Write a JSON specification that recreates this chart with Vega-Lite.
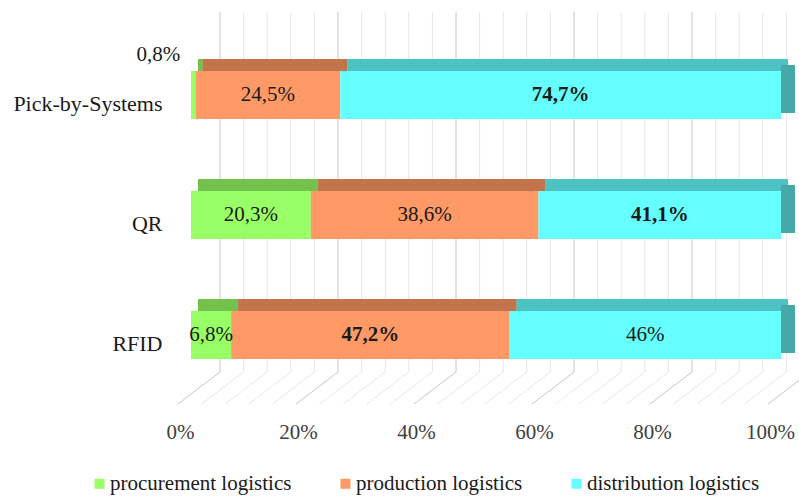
{
  "$schema": "https://vega.github.io/schema/vega-lite/v6.json",
  "autosize": {"type": "none"},
  "width": 590,
  "height": 360,
  "padding": {"left": 220, "top": 12, "right": 0, "bottom": 124},
  "background": "#ffffff",
  "config": {
    "view": {"stroke": null},
    "font": "Liberation Serif",
    "text": {"font": "Liberation Serif", "fontSize": 21, "color": "#1a1a1a"}
  },
  "datasets": {
    "shares": [
      {"tech": "Pick-by-Systems", "stage": "procurement logistics", "share": 0.8},
      {"tech": "Pick-by-Systems", "stage": "production logistics", "share": 24.5},
      {"tech": "Pick-by-Systems", "stage": "distribution logistics", "share": 74.7},
      {"tech": "QR", "stage": "procurement logistics", "share": 20.3},
      {"tech": "QR", "stage": "production logistics", "share": 38.6},
      {"tech": "QR", "stage": "distribution logistics", "share": 41.1},
      {"tech": "RFID", "stage": "procurement logistics", "share": 6.8},
      {"tech": "RFID", "stage": "production logistics", "share": 47.2},
      {"tech": "RFID", "stage": "distribution logistics", "share": 46}
    ],
    "gridTicks": [
      {"t": 0}, {"t": 4}, {"t": 8}, {"t": 12}, {"t": 16}, {"t": 20}, {"t": 24},
      {"t": 28}, {"t": 32}, {"t": 36}, {"t": 40}, {"t": 44}, {"t": 48}, {"t": 52},
      {"t": 56}, {"t": 60}, {"t": 64}, {"t": 68}, {"t": 72}, {"t": 76}, {"t": 80},
      {"t": 84}, {"t": 88}, {"t": 92}, {"t": 96}, {"t": 100}
    ]
  },
  "layer": [
    {
      "data": {"name": "gridTicks"},
      "mark": {"type": "rule", "strokeWidth": 1},
      "encoding": {
        "x": {
          "field": "t",
          "type": "quantitative",
          "scale": {"domain": [0, 100], "nice": false, "zero": true},
          "axis": {
            "values": [0, 20, 40, 60, 80, 100],
            "title": null,
            "domain": false,
            "ticks": false,
            "grid": false,
            "labelExpr": "datum.value + '%'",
            "labelFont": "Liberation Serif",
            "labelFontSize": 21,
            "labelColor": "#404040",
            "labelOffset": -40,
            "labelPadding": 49,
            "labelFlush": false,
            "labelOverlap": false,
            "labelBound": false
          }
        },
        "color": {"condition": {"test": "datum.t % 20 === 0", "value": "#c6c6c6"}, "value": "#e6e6e6"}
      }
    },
    {
      "data": {"name": "gridTicks"},
      "mark": {"type": "rule", "strokeWidth": 1, "yOffset": 60, "y2Offset": 92, "x2Offset": -42},
      "encoding": {
        "x": {"field": "t", "type": "quantitative"},
        "x2": {"field": "t"},
        "y": {"datum": "RFID", "type": "nominal"},
        "y2": {"datum": "RFID"},
        "color": {"condition": {"test": "datum.t % 20 === 0", "value": "#c6c6c6"}, "value": "#e6e6e6"}
      }
    },
    {
      "data": {"name": "shares"},
      "transform": [
        {"calculate": "indexof(['procurement logistics', 'production logistics', 'distribution logistics'], datum.stage)", "as": "idx"},
        {"window": [{"op": "sum", "field": "share", "as": "end"}], "groupby": ["tech"], "sort": [{"field": "idx"}], "frame": [null, 0]},
        {"calculate": "datum.end - datum.share", "as": "start"},
        {"calculate": "(datum.start + datum.end) / 2", "as": "mid"},
        {"joinaggregate": [{"op": "max", "field": "share", "as": "top"}], "groupby": ["tech"]},
        {"calculate": "replace(format(datum.share, '.1~f'), '.', ',') + '%'", "as": "label"}
      ],
      "layer": [
        {
          "mark": {"type": "bar", "size": 12, "yOffset": -7, "xOffset": -22, "x2Offset": -22},
          "encoding": {
            "x": {"field": "start", "type": "quantitative"},
            "x2": {"field": "end"},
            "y": {"field": "tech", "type": "nominal"},
            "color": {"field": "stage", "type": "nominal"}
          }
        },
        {
          "mark": {"type": "bar", "size": 12, "yOffset": -7, "xOffset": -22, "x2Offset": -22, "color": "#000000", "opacity": 0.24},
          "encoding": {
            "x": {"field": "start", "type": "quantitative"},
            "x2": {"field": "end"},
            "y": {"field": "tech", "type": "nominal"}
          }
        },
        {
          "transform": [{"filter": "datum.stage === 'distribution logistics'"}],
          "mark": {"type": "bar", "size": 48, "yOffset": 17, "xOffset": -29, "x2Offset": -15, "color": "#46a9a9"},
          "encoding": {
            "x": {"field": "end", "type": "quantitative"},
            "x2": {"field": "end"},
            "y": {"field": "tech", "type": "nominal"}
          }
        },
        {
          "mark": {"type": "bar", "size": 48, "yOffset": 23, "xOffset": -29, "x2Offset": -29},
          "encoding": {
            "x": {"field": "start", "type": "quantitative"},
            "x2": {"field": "end"},
            "y": {
              "field": "tech",
              "type": "nominal",
              "sort": ["Pick-by-Systems", "QR", "RFID"],
              "scale": {"paddingInner": 0, "paddingOuter": 0},
              "axis": {
                "title": null,
                "domain": false,
                "ticks": false,
                "labelFont": "Liberation Serif",
                "labelFontSize": 22,
                "labelColor": "#1a1a1a",
                "labelPadding": 58,
                "labelOffset": 32,
                "labelLimit": 300
              }
            },
            "color": {
              "field": "stage",
              "type": "nominal",
              "scale": {
                "domain": ["procurement logistics", "production logistics", "distribution logistics"],
                "range": ["#99ff66", "#ff9966", "#66ffff"]
              },
              "legend": {
                "title": null,
                "orient": "none",
                "legendX": -131,
                "legendY": 461,
                "direction": "horizontal",
                "symbolType": "square",
                "symbolSize": 100,
                "symbolStrokeWidth": 0,
                "labelFont": "Liberation Serif",
                "labelFontSize": 21,
                "labelColor": "#1a1a1a",
                "labelOffset": 0,
                "labelLimit": 400,
                "columnPadding": 43
              }
            }
          }
        },
        {
          "transform": [{"filter": "datum.share >= 2 && datum.share < datum.top"}],
          "mark": {"type": "text", "align": "center", "baseline": "middle", "xOffset": -29, "yOffset": 23},
          "encoding": {
            "x": {"field": "mid", "type": "quantitative"},
            "y": {"field": "tech", "type": "nominal"},
            "text": {"field": "label"}
          }
        },
        {
          "transform": [{"filter": "datum.share === datum.top"}],
          "mark": {"type": "text", "align": "center", "baseline": "middle", "fontWeight": "bold", "xOffset": -29, "yOffset": 23},
          "encoding": {
            "x": {"field": "mid", "type": "quantitative"},
            "y": {"field": "tech", "type": "nominal"},
            "text": {"field": "label"}
          }
        },
        {
          "transform": [{"filter": "datum.share < 2"}],
          "mark": {"type": "text", "align": "right", "baseline": "middle", "xOffset": -42, "yOffset": -17},
          "encoding": {
            "x": {"field": "mid", "type": "quantitative"},
            "y": {"field": "tech", "type": "nominal"},
            "text": {"field": "label"}
          }
        }
      ]
    }
  ]
}
